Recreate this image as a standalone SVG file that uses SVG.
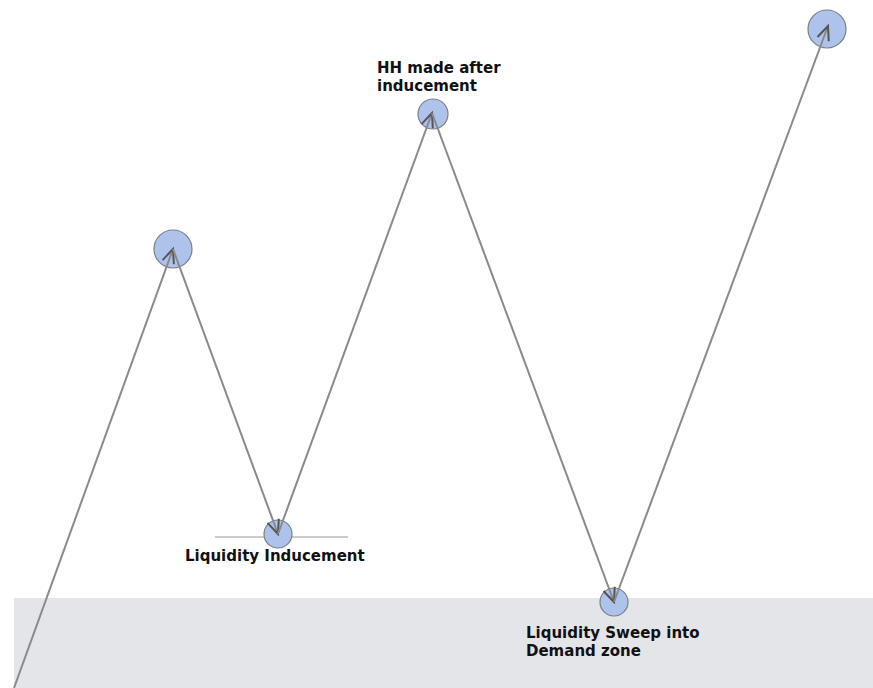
<svg xmlns="http://www.w3.org/2000/svg" width="873" height="688" viewBox="0 0 873 688">
<style>
.node circle{fill:#aec3ec;stroke:#7a7f88;stroke-width:1.2}
.lbl{font-family:"DejaVu Sans",sans-serif;font-weight:bold;font-size:15px;fill:#111}
.conn line{stroke:#8a8a8a;stroke-width:2;marker-end:url(#chev)}
</style>
<defs>
<marker id="chev" markerUnits="userSpaceOnUse" viewBox="-16 -8 18 16" refX="0" refY="0" markerWidth="18" markerHeight="16" orient="auto">
<path d="M-14,-6 L0,0 L-14,6" fill="none" stroke="#555" stroke-width="2"/>
</marker>
</defs>
<rect x="14" y="598" width="859" height="90" fill="#e4e5e9"/>
<line x1="215" y1="537" x2="348" y2="537" stroke="#999" stroke-width="1"/>
<g id="n1" class="node"><circle cx="173" cy="249" r="19"/></g>
<g id="n2" class="node"><circle cx="278" cy="534" r="14"/><text class="lbl" x="185" y="561">Liquidity Inducement</text></g>
<g id="n3" class="node"><circle cx="433" cy="114" r="15"/><text class="lbl" x="377" y="73">HH made after</text><text class="lbl" x="377" y="91">inducement</text></g>
<g id="n4" class="node"><circle cx="614" cy="602" r="14"/><text class="lbl" x="526" y="638">Liquidity Sweep into</text><text class="lbl" x="526" y="656">Demand zone</text></g>
<g id="n5" class="node"><circle cx="827" cy="29" r="19"/></g>
<g id="connectors" class="conn">
<line x1="14" y1="688" x2="173" y2="249"/>
<line x1="173" y1="249" x2="278" y2="534"/>
<line x1="278" y1="534" x2="432" y2="113"/>
<line x1="432" y1="113" x2="614" y2="602"/>
<line x1="614" y1="602" x2="828" y2="26"/>
</g>
</svg>
